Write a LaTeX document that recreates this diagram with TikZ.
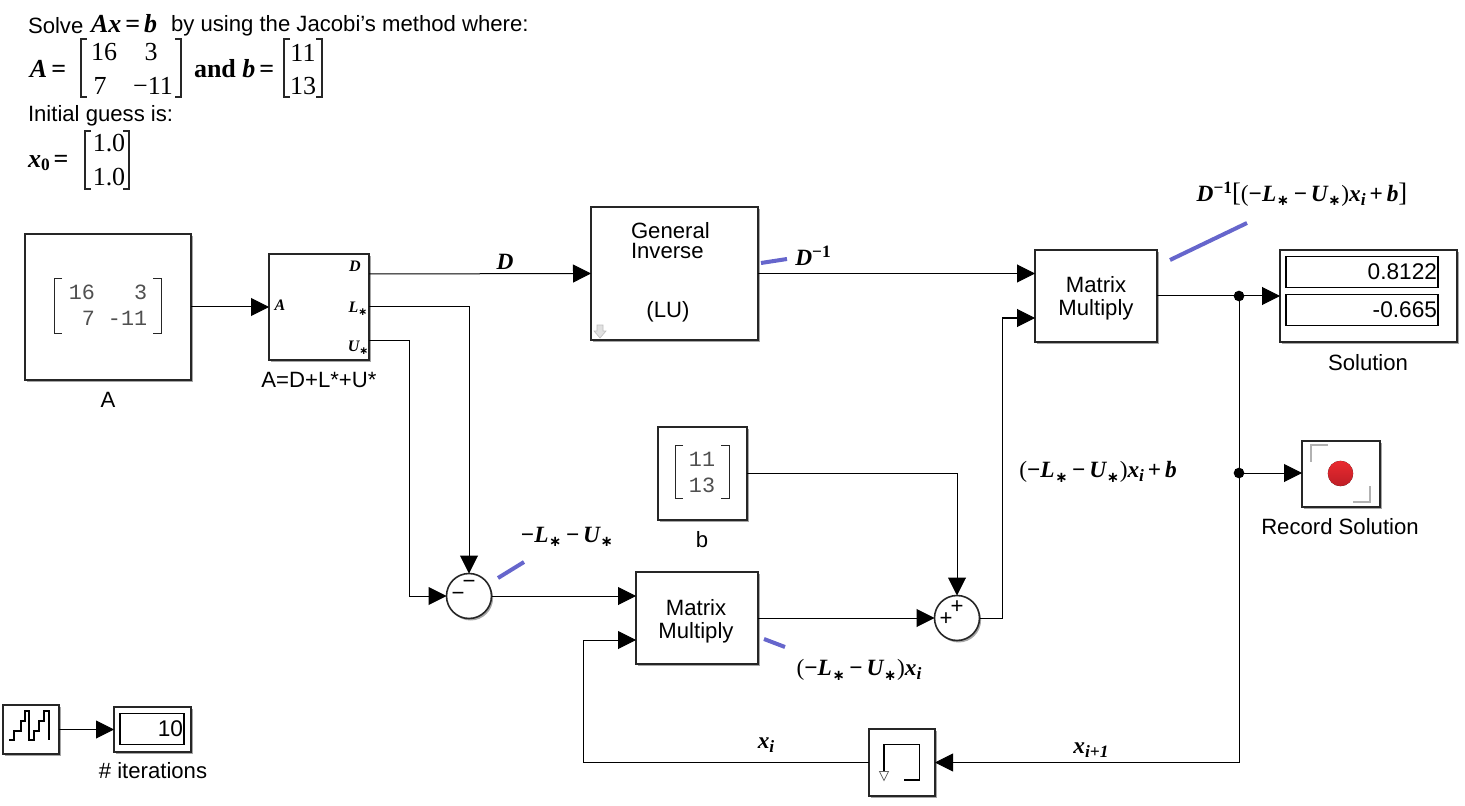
\documentclass[tikz,border=0pt]{standalone}
\usepackage{fontspec}
\usetikzlibrary{arrows.meta,shadows,calc}
\setmainfont{Liberation Sans}
\setmonofont{Liberation Mono}
\newfontfamily\serifreg{Liberation Serif}
\newfontfamily\serifbi{Liberation Serif Bold Italic}
\newfontfamily\serifbf{Liberation Serif Bold}
\newfontfamily\starfont{DejaVu Sans Bold}
\newcommand\msub[2]{\raisebox{#1}{\fontsize{13}{13}\selectfont\serifbi #2}}
\newcommand\mstar{\hspace{0.5pt}\raisebox{-3.5pt}{\fontsize{11}{11}\selectfont\starfont ∗}\hspace{0.5pt}}
\newcommand\pstar{\raisebox{-2.5pt}{\fontsize{8}{8}\selectfont\starfont ∗}}
\newcommand\mmin{{\serifbf −}}
\definecolor{annot}{HTML}{6666CC}
\definecolor{monogray}{HTML}{505050}
\definecolor{rectop}{HTML}{EA2A30}
\definecolor{recbot}{HTML}{BE1E26}
\tikzset{
  x=0.75pt,y=-0.75pt,
  every node/.style={inner sep=0pt,outer sep=0pt,font=\fontsize{16.6}{18}\selectfont},
  sig/.style={line width=0.75pt,-{Triangle[length=13.5pt,width=13.5pt]}},
  wire/.style={line width=0.75pt},
  blockbox/.style={draw=black!85,fill=white,line width=1.2pt,align=center,
    drop shadow={shadow xshift=1.2pt,shadow yshift=-1.5pt,opacity=0.35,fill=black}},
  sumbox/.style={blockbox,circle,minimum size=33.75pt},
  junction/.style={circle,fill=black,minimum size=8pt},
  note/.style={line width=3pt,draw=annot},
  eq/.style={font=\fontsize{19.5}{19.5}\selectfont\serifreg},
  eqb/.style={font=\fontsize{19.5}{19.5}\selectfont\serifbf},
  lab/.style={font=\fontsize{17.5}{17.5}\selectfont\serifbi},
  port/.style={font=\fontsize{12}{12}\selectfont\serifbi},
  monot/.style={font=\fontsize{16.3}{19.5}\selectfont\ttfamily,text=monogray,align=left},
  brk/.style={draw=black!85,line width=0.7pt},
  ebrk/.style={draw=black!85,line width=0.9pt},
  inner/.style={draw=black,fill=white,line width=0.8pt,minimum height=0pt},
  num/.style={font=\fontsize{17}{17}\selectfont,anchor=east},
  icon/.style={draw=black,line width=0.8pt},
  gicon/.style={draw=black!30,line width=0.8pt},
}
\newcommand\blk[6][]{\node[blockbox,#1,minimum width={(#4-#2)*0.75pt},minimum height={(#5-#3)*0.75pt}] (#6) at ({(#2+#4)/2},{(#3+#5)/2}) {};}
\newcommand\ebrackets[4]{%
  \draw[ebrk] (#1+6,#3) -- (#1,#3) -- (#1,#4) -- (#1+6,#4);
  \draw[ebrk] (#2-6,#3) -- (#2,#3) -- (#2,#4) -- (#2-6,#4);}
\newcommand\mbrackets[4]{%
  \draw[brk] (#1+8,#3) -- (#1,#3) -- (#1,#4) -- (#1+8,#4);
  \draw[brk] (#2-8,#3) -- (#2,#3) -- (#2,#4) -- (#2-8,#4);}
\begin{document}
\begin{tikzpicture}
\useasboundingbox (0,0) rectangle (1465,806);
% ---- problem statement
\node[anchor=west] (t1) at (28,26) {Solve};
\node[anchor=west,eqb] (t2) at (91,24) {\serifbi Ax\hspace{3pt}\serifbf =\hspace{3pt}\serifbi b};
\node[anchor=west] (t3) at (171,26) {by using the Jacobi's method where:};
\node[anchor=west,eqb] (t4) at (30,69) {\serifbi A\hspace{3pt}\serifbf =};
\ebrackets{81}{181}{39}{97}
\node[eq] (a11) at (104,52) {16};
\node[eq] (a12) at (151,52) {3};
\node[eq] (a21) at (100,86) {7};
\node[eq] (a22) at (153,86) {−11};
\node[anchor=west,eqb] (t5) at (194,69) {and \serifbi b\hspace{3pt}\serifbf =};
\ebrackets{284}{322}{39}{97}
\node[eq] (b1) at (303,53) {11};
\node[eq] (b2) at (303,86) {13};
\node[anchor=west] (t6) at (28,116) {Initial guess is:};
\node[anchor=west,eqb] (t7) at (28,163) {\serifbi x\raisebox{-2pt}{\fontsize{13}{13}\selectfont\serifbf 0}\hspace{3pt}\serifbf =};
\ebrackets{85}{129}{131}{189}
\node[eq] (c1) at (109,143) {1.0};
\node[eq] (c2) at (109,177) {1.0};
% ---- blocks
\blk{25}{234}{191}{380}{A}
\mbrackets{54}{161}{278}{333}
\node[monot] (Aval) at (108,305) {16~~~3\\~7~-11};
\node (Alab) at (108,400) {A};
\blk{269}{254}{369}{360}{dec}
\node[port] (pA) at (280,305) {A};
\node[port] (pD) at (355,266) {D};
\node[port] (pL) at (358,309) {L\pstar};
\node[port] (pU) at (358,348) {U\pstar};
\node (declab) at (319,380) {A=D+L*+U*};
\coordinate (dD) at (369,274);
\coordinate (dL) at (369,307);
\coordinate (dU) at (369,340);
\blk{591}{207}{758}{340}{ginv}
\node[anchor=west,align=left,font=\fontsize{16.6}{15}\selectfont] (gtxt) at (631,241) {General\\Inverse};
\node (glu) at (668,312) {(LU)};
\draw[draw=black!25,fill=black!12,line width=0.5pt] (597,325) -- (603,325) -- (603,331) -- (606,331) -- (600,338) -- (594,331) -- (597,331) -- cycle;
\blk{1035}{250}{1157}{342}{mm1}
\node[align=center,font=\fontsize{16.6}{17.3}\selectfont] (mm1t) at (1096,298) {Matrix\\Multiply};
\blk{1280}{250}{1457}{342}{sol}
\node[inner,minimum width=114pt,minimum height=23pt] (sol1) at (1362,272) {};
\node[inner,minimum width=114pt,minimum height=23pt] (sol2) at (1362,310) {};
\node[num] (sv1) at (1437,272) {0.8122};
\node[num] (sv2) at (1437,310) {-0.665};
\node (sollab) at (1368,363) {Solution};
\blk{658}{427}{747}{520}{bb}
\mbrackets{675}{729}{445}{498}
\node[monot] (bval) at (702,472) {11\\13};
\node (blab) at (702,540) {b};
\blk{1302}{441}{1380}{507}{rec}
\draw[gicon] (1328,445) -- (1311,445) -- (1311,462);
\draw[gicon] (1353,502) -- (1370,502) -- (1370,486);
\fill[top color=rectop,bottom color=recbot,draw=none] (1340.5,473.5) circle (9.5pt);
\node (reclab) at (1340,527) {Record Solution};
\blk{636}{572}{758}{664}{mm2}
\node[align=center,font=\fontsize{16.6}{17.3}\selectfont] (mm2t) at (696,621) {Matrix\\Multiply};
\node[sumbox] (s1) at (469,596) {};
\node (s1a) at (469,584) {−};
\node (s1b) at (458,596) {−};
\node[sumbox] (s2) at (957,618) {};
\node (s2a) at (957,607) {+};
\node (s2b) at (946,619) {+};
\blk{869}{729}{935}{796}{dly}
\draw[icon] (904,780) -- (919.5,780) -- (919.5,744.5) -- (884,744.5) -- (884,771);
\draw[draw=black!60,line width=0.6pt,fill=white] (879.5,771.5) -- (888.5,771.5) -- (884,780.5) -- cycle;
\blk{3}{705}{59}{754}{step}
\draw[icon] (9,740) -- (14,740) -- (14,731) -- (21,731) -- (21,721) -- (25,721) -- (25,711) -- (29,711) -- (29,740) -- (34,740) -- (34,731) -- (39,731) -- (39,721) -- (44,721) -- (44,711) -- (49,711) -- (49,740);
\blk{114}{707}{191}{752}{disp}
\node[inner,minimum width=48pt,minimum height=23.5pt] (dinner) at (152,729) {};
\node[num] (dval) at (183,729) {10};
\node (itlab) at (153,771) {\# iterations};
% ---- connectors
\draw[sig] (A.east) -- (dec.west);
\draw[sig] (dD) -- (ginv.west);
\draw[sig] (ginv.east) -- (mm1.west |- ginv.east);
\draw[sig] (dL) -| (s1.north);
\draw[sig] (dU) -| (409,596) -- (s1.west);
\draw[sig] (s1.east) -- (mm2.west |- s1.east);
\draw[sig] (bb.east |- 0,473) -| (s2.north);
\draw[sig] (mm2.east |- s2.west) -- (s2.west);
\draw[sig] (s2.east) -| (1002,318) -- (mm1.west |- 0,318);
\draw[sig] (mm1.east) -- (sol.west |- mm1.east);
\node[junction] (j1) at (1239,296) {};
\node[junction] (j2) at (1239,473) {};
\draw[wire] (j1) -- (j2);
\draw[sig] (j2) -- (rec.west |- j2);
\draw[sig] (j2) |- (dly.east);
\draw[sig] (dly.west) -| (583,640) -- (mm2.west |- 0,640);
\draw[sig] (step.east) -- (disp.west |- step.east);
% ---- annotations
\coordinate (n1a) at (761,263); \coordinate (n1b) at (787,259);
\coordinate (n2a) at (1170,260); \coordinate (n2b) at (1247,223);
\coordinate (n3a) at (498,578); \coordinate (n3b) at (524,562);
\coordinate (n4a) at (764,639); \coordinate (n4b) at (785,647);
\draw[note] (n1a) -- (n1b);
\draw[note] (n2a) -- (n2b);
\draw[note] (n3a) -- (n3b);
\draw[note] (n4a) -- (n4b);
\node[lab] (lD) at (505,262) {D};
\node[lab] (lDi) at (813,256) {D\raisebox{6pt}{\fontsize{13}{13}\selectfont\serifbf −1}};
\node[lab] (lTop) at (1302,194) {D\raisebox{6pt}{\fontsize{13}{13}\selectfont\serifbf −1}{\serifreg\fontsize{20}{20}\selectfont [}{\serifreg (}\mmin L\mstar\,\mmin\,U\mstar{\serifreg )}x\msub{-3pt}{i}\,{\serifbf +}\,b{\serifreg\fontsize{20}{20}\selectfont ]}};
\node[lab] (lLU) at (567,537) {\mmin L\mstar\,\mmin\,U\mstar};
\node[lab] (lLUx) at (859,670) {{\serifreg (}\mmin L\mstar\,\mmin\,U\mstar{\serifreg )}x\msub{-3pt}{i}};
\node[lab] (lLUb) at (1098,472) {{\serifreg (}\mmin L\mstar\,\mmin\,U\mstar{\serifreg )}x\msub{-3pt}{i}\,{\serifbf +}\,b};
\node[lab] (lxi) at (766,745) {x\msub{-3pt}{i}};
\node[lab] (lxn) at (1091,750) {x\msub{-3pt}{i+1}};
\end{tikzpicture}
\end{document}
